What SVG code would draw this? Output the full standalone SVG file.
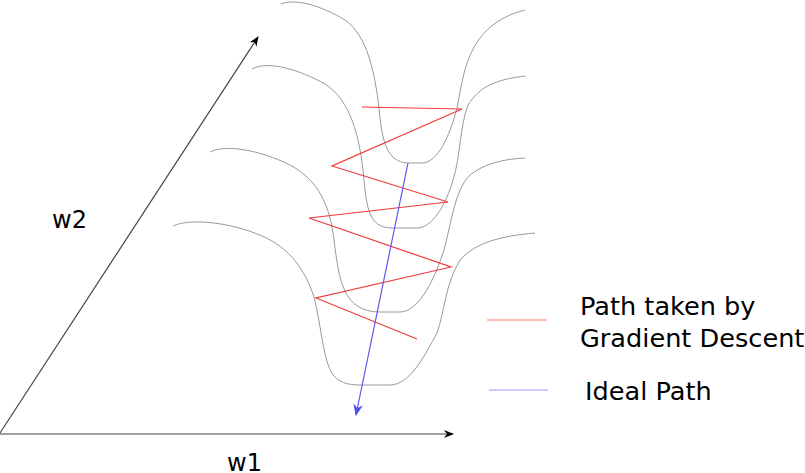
<svg xmlns="http://www.w3.org/2000/svg" width="805" height="473" viewBox="0 0 805 473">
<defs>
<style>
.contour{fill:none;stroke:#9a9a9a;stroke-width:1}
.axis{fill:none;stroke:#444;stroke-width:1.2}
.lbl{font-family:"DejaVu Sans",sans-serif;fill:#000}
</style>
<marker id="ah" viewBox="0 0 10 10" refX="9" refY="5" markerWidth="10" markerHeight="10" markerUnits="userSpaceOnUse" orient="auto">
<path d="M0,1 L10,5 L0,9 L3,5 Z" fill="#000"/>
</marker>
<marker id="ahb" viewBox="0 0 10 10" refX="9" refY="5" markerWidth="12" markerHeight="12" markerUnits="userSpaceOnUse" orient="auto">
<path d="M0,1 L10,5 L0,9 L3,5 Z" fill="#5050ee"/>
</marker>
</defs>
<rect width="805" height="473" fill="#fff"/>
<g id="contours">
<path class="contour" d="M281,4 C296,-2 322,6 345,20 C368,36 375,75 379,108 C382,140 386,162 408,163 L422,163 C438,163 450,135 457,108 C464,75 466,25 525,10"/>
<path class="contour" d="M252,69 C268,60 300,70 325,84 C350,100 360,135 364,180 C367,215 372,228 393,228 L417,228 C432,228 446,205 453,180 C460,160 460,125 468,105 C480,85 500,79 525,76"/>
<path class="contour" d="M210,152 C225,144 260,150 290,165 C318,180 330,205 334,240 C339,280 343,312 380,312 L400,312 C420,312 436,275 444,250 C452,220 455,190 470,175 C485,163 505,159 525,158"/>
<path class="contour" d="M173,226 C190,218 230,222 262,236 C290,248 305,270 314,297 C322,330 323,360 333,375 C342,385 352,385 365,385 L390,385 C410,385 425,355 437,333 C445,310 445,285 460,260 C475,243 500,236 535,233"/>
</g>
<g id="connectors">
<line id="w1-axis" class="axis" x1="0" y1="434" x2="453" y2="434" marker-end="url(#ah)"/>
<line id="w2-axis" class="axis" x1="0" y1="433" x2="258" y2="37" marker-end="url(#ah)"/>
<polyline id="gd-path" fill="none" stroke="#f03a3a" stroke-width="1.2" points="362,107 462,109 332,166 448,202 309,218 451,267 316,298 417,339"/>
<line id="ideal-path" x1="408" y1="163" x2="356" y2="415" stroke="#5a5aee" stroke-width="1.2" marker-end="url(#ahb)"/>
</g>
<g id="labels">
<text class="lbl" x="52" y="228" font-size="24">w2</text>
<text class="lbl" x="227" y="471" font-size="24">w1</text>
</g>
<g id="legend">
<line x1="487" y1="320" x2="547" y2="320" stroke="#ff8060" stroke-width="1.2"/>
<line x1="489" y1="390" x2="548" y2="390" stroke="#9999ff" stroke-width="1.2"/>
<text class="lbl" x="580" y="315" font-size="25.6">Path taken by</text>
<text class="lbl" x="580" y="347" font-size="25.6">Gradient Descent</text>
<text class="lbl" x="585" y="400" font-size="25.6">Ideal Path</text>
</g>
</svg>
